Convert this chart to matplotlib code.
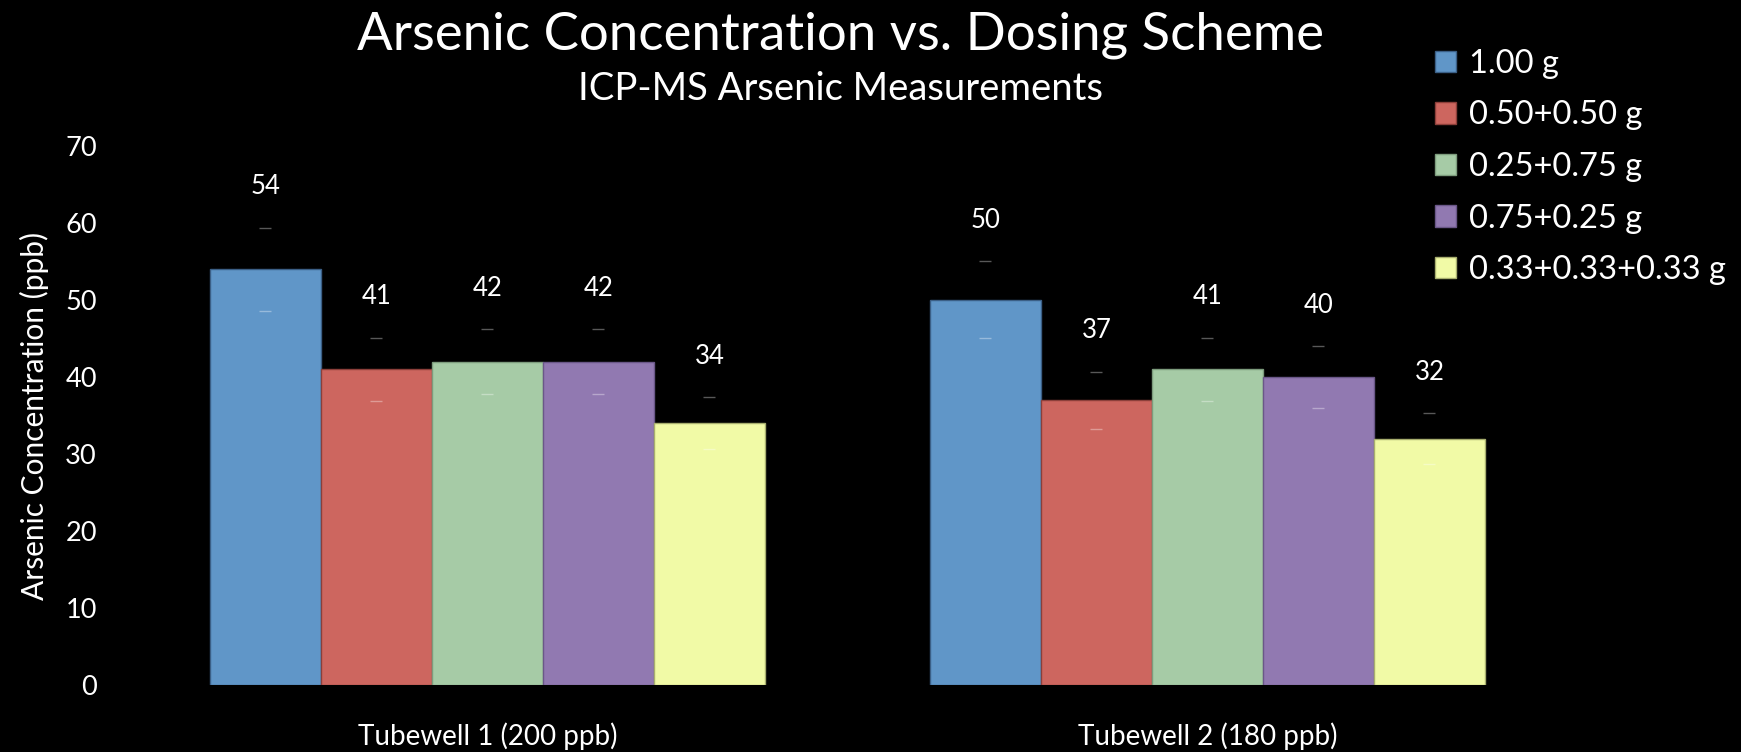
import matplotlib
matplotlib.use("Agg")
import matplotlib.pyplot as plt
import numpy as np

# values
wells = ["Tubewell 1 (200 ppb)", "Tubewell 2 (180 ppb)"]
schemes = ["1.00 g", "0.50+0.50 g", "0.25+0.75 g", "0.75+0.25 g", "0.33+0.33+0.33 g"]
conc = [
    [54.0, 50.0],   # 1.00 g
    [41.0, 37.0],   # 0.50+0.50 g
    [42.0, 41.0],   # 0.25+0.75 g
    [42.0, 40.0],   # 0.75+0.25 g
    [34.0, 32.0],   # 0.33+0.33+0.33 g
]
errs = [
    [5.4, 5.0],
    [4.1, 3.7],
    [4.2, 4.1],
    [4.2, 4.0],
    [3.4, 3.3],
]
colors = ["#6096c8", "#cd665f", "#a6cba6", "#9179b1", "#f1faa6"]
edges = ["#3b5f86", "#8c3f3a", "#7d9c7d", "#6a5788", "#a8ae6e"]

plt.rcParams['font.family'] = ['Lato', 'DejaVu Sans']

fig = plt.figure(figsize=(17.41, 7.52), dpi=100, facecolor='black')
ax = fig.add_axes([0.0732, 0.0891, 0.8271, 0.7168])
ax.set_facecolor('black')

x = np.arange(len(wells))
w = 0.1542
for i, name in enumerate(schemes):
    pos = x + (i - 2) * w
    ax.bar(pos, conc[i], width=w, color=colors[i], edgecolor=edges[i],
           linewidth=1, label=name, zorder=2)
    ax.errorbar(pos, conc[i], yerr=errs[i], fmt='none', elinewidth=0,
                ecolor=(1, 1, 1, 0.35), capsize=4.3, capthick=1, zorder=3)
    for xp, v, e in zip(pos, conc[i], errs[i]):
        ax.text(xp, v + e + 5.3, f"{v:.0f}", ha='center', va='center',
                color='white', fontsize=18.5)

ax.set_xlim(-0.5, 1.5)
ax.set_ylim(0, 70)
ax.set_yticks(range(0, 71, 10))
ax.set_xticks(x)
ax.set_xticklabels(wells)
ax.tick_params(axis='y', length=0, pad=22, labelsize=19.5, colors='white')
ax.tick_params(axis='x', length=0, pad=27, labelsize=20, colors='white')
for s in ax.spines.values():
    s.set_visible(False)
ax.set_ylabel("Arsenic Concentration (ppb)", color='white', fontsize=21.5, labelpad=12)

fig.text(0.483, 0.953, "Arsenic Concentration vs. Dosing Scheme", ha='center',
         va='center', color='white', fontsize=38)
fig.text(0.483, 0.882, "ICP-MS Arsenic Measurements", ha='center', va='center',
         color='white', fontsize=27.5)

fig.legend(loc='upper left', bbox_to_anchor=(0.8245, 0.935), frameon=False,
           fontsize=23.5, labelcolor='white', handlelength=0.63, handleheight=0.63,
           handletextpad=0.4, labelspacing=0.66, borderaxespad=0, borderpad=0)

fig.savefig("out.png", dpi=100, facecolor='black')
